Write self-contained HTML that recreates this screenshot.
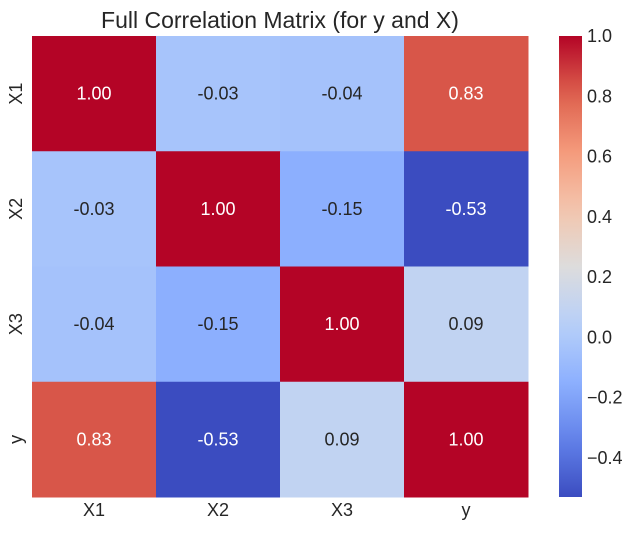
<!DOCTYPE html>
<html><head><meta charset="utf-8"><style>
body{margin:0;background:#fff;font-family:"Liberation Sans",sans-serif;}
</style></head><body>
<svg id="c" width="635" height="530" xmlns="http://www.w3.org/2000/svg" font-family="Liberation Sans, sans-serif">
<defs><linearGradient id="g" x1="0" y1="1" x2="0" y2="0"></linearGradient></defs>
<text x="280" y="28" text-anchor="middle" font-size="23" fill="#262626">Full Correlation Matrix (for y and X)</text>
<g id="cells"></g><g id="cbar"></g>
</svg>
<script>
const labels=["X1","X2","X3","y"];
const matrix=[[1.00,-0.03,-0.04,0.83],[-0.03,1.00,-0.15,-0.53],[-0.04,-0.15,1.00,0.09],[0.83,-0.53,0.09,1.00]];
const cbarTicks=[1.0,0.8,0.6,0.4,0.2,0.0,-0.2,-0.4];
const vmin=-0.53, vmax=1.0;
const stops=[[0,[59,76,192]],[0.125,[98,130,234]],[0.25,[141,176,254]],[0.375,[184,208,249]],[0.5,[221,220,220]],[0.625,[244,197,173]],[0.75,[244,154,123]],[0.875,[221,96,77]],[1,[180,4,38]]];
function cmap(t){t=Math.max(0,Math.min(1,t));for(let i=1;i<stops.length;i++){if(t<=stops[i][0]){const a=stops[i-1],b=stops[i],f=(t-a[0])/(b[0]-a[0]);const c=a[1].map((v,k)=>Math.round(v+(b[1][k]-v)*f));return `rgb(${c})`;}}return 'rgb(180,4,38)';}
const NS="http://www.w3.org/2000/svg";
const X0=32,X1=528,Y0=36,Y1=497,n=labels.length,cw=(X1-X0)/n,ch=(Y1-Y0)/n;
const cells=document.getElementById('cells');
function el(tag,attrs,parent){const e=document.createElementNS(NS,tag);for(const k in attrs)e.setAttribute(k,attrs[k]);parent.appendChild(e);return e;}
for(let r=0;r<n;r++)for(let c=0;c<n;c++){const v=matrix[r][c];const t=(v-vmin)/(vmax-vmin);
const rect=el('rect',{x:X0+c*cw,y:Y0+r*ch,width:cw+0.5,height:ch+0.5,fill:cmap(t)},cells);


const tx=el('text',{x:X0+(c+0.5)*cw,y:Y0+(r+0.5)*ch+6,'text-anchor':'middle','font-size':18,fill:(t>0.85||t<0.15)?'#fff':'#262626'},cells);
tx.textContent=v.toFixed(2);

}
labels.forEach((l,i)=>{const t=el('text',{x:X0+(i+0.5)*cw,y:516,'text-anchor':'middle','font-size':18,fill:'#262626'},cells);t.textContent=l;


const yy=Y0+(i+0.5)*ch;const t2=el('text',{x:22,y:yy,'text-anchor':'middle','font-size':18,fill:'#262626',transform:`rotate(-90 22 ${yy})`},cells);t2.textContent=l;

});
const g=document.getElementById('g');
for(let i=0;i<=20;i++){el('stop',{offset:i/20,'stop-color':cmap(i/20)},g);}
const cb=document.getElementById('cbar');
const cr=el('rect',{x:559,y:Y0,width:23,height:Y1-Y0,fill:'url(#g)'},cb);


cbarTicks.forEach(v=>{const y=Y1-(v-vmin)/(vmax-vmin)*(Y1-Y0);const t=el('text',{x:587,y:y+6,'font-size':18,fill:'#262626'},cb);t.textContent=(v<0?'\u2212'+Math.abs(v).toFixed(1):v.toFixed(1));

});
</script>
</body></html>
